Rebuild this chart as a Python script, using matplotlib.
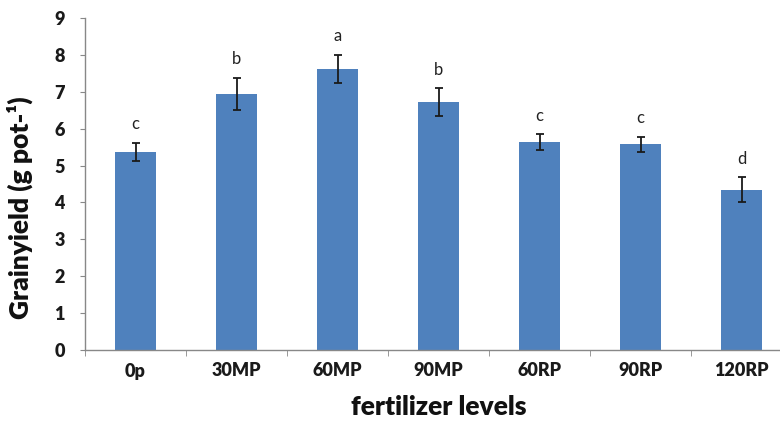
import matplotlib
matplotlib.use("Agg")
import matplotlib.pyplot as plt
import numpy as np

categories = ["0p", "30MP", "60MP", "90MP", "60RP", "90RP", "120RP"]
grain_yield = [5.37, 6.94, 7.63, 6.71, 5.63, 5.58, 4.34]
errors = [0.25, 0.44, 0.38, 0.38, 0.22, 0.20, 0.34]
letters = ["c", "b", "a", "b", "c", "c", "d"]
yticks = [0, 1, 2, 3, 4, 5, 6, 7, 8, 9]

plt.rcParams['font.family'] = ['Lato', 'DejaVu Sans']

fig = plt.figure(figsize=(7.8, 4.21), dpi=100)
ax = fig.add_axes([85/780, (421-350)/421, (792-85)/780, (350-18)/421])

x = np.arange(len(categories))
ax.bar(x, grain_yield, width=0.4, color="#4F81BD", zorder=2)
ax.errorbar(x, grain_yield, yerr=errors, fmt="none", ecolor="#1a1a1a",
            elinewidth=1.3, capsize=3, capthick=1.3, zorder=3)
for xi, v, e, l in zip(x, grain_yield, errors, letters):
    ax.text(xi, v + e + 0.5, l, ha="center", va="center", fontsize=12, color="#222222")

ax.set_xlim(-0.5, len(categories) - 0.5)
ax.set_ylim(0, 9)
ax.set_yticks(yticks)
ax.set_yticklabels([str(t) for t in yticks], fontsize=13, fontweight="heavy", color="#1a1a1a")
ax.set_xticks(x)
ax.set_xticklabels(categories, fontsize=13, fontweight="heavy", color="#1a1a1a")
ax.set_xticks(np.arange(len(categories) + 1) - 0.5, minor=True)
ax.tick_params(axis="x", which="major", length=0, pad=9)
ax.tick_params(axis="x", which="minor", length=4, color="#888888", direction="out")
ax.tick_params(axis="y", which="major", length=3.5, color="#888888", direction="out", pad=11)

for s in ["top", "right"]:
    ax.spines[s].set_visible(False)
for s in ["left", "bottom"]:
    ax.spines[s].set_color("#888888")
    ax.spines[s].set_linewidth(1.0)

ax.set_xlabel("fertilizer levels", fontsize=19, fontweight="heavy", color="#111111")
ax.set_ylabel("Grainyield (g pot-¹)", fontsize=19, fontweight="heavy", color="#111111")
ax.xaxis.set_label_coords(0.5, -0.135)
ax.yaxis.set_label_coords(-0.074, 0.43)

fig.savefig("out.png", dpi=100)
